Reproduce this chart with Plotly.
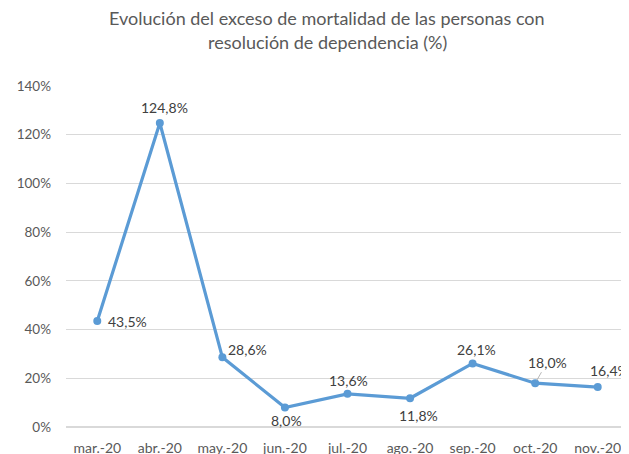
import plotly.graph_objects as go

months = ["mar.-20", "abr.-20", "may.-20", "jun.-20", "jul.-20", "ago.-20", "sep.-20", "oct.-20", "nov.-20"]
values = [43.5, 124.8, 28.6, 8.0, 13.6, 11.8, 26.1, 18.0, 16.4]
labels = ["43,5%", "124,8%", "28,6%", "8,0%", "13,6%", "11,8%", "26,1%", "18,0%", "16,4%"]
y_ticks = [0, 20, 40, 60, 80, 100, 120, 140]
y_tick_text = ["0%", "20%", "40%", "60%", "80%", "100%", "120%", "140%"]
title_lines = ["Evolución del exceso de mortalidad de las personas con",
               "resolución de dependencia (%)"]

# label offsets (px) relative to each point
x_shifts = [30, 5, 25, 2, 1, 8, 4, 12, 12]
y_shifts = [0, 16, 8, -13, 13, -17, 14, 21, 17]

FONT = "Lato"
line_color = "#5B9BD5"

fig = go.Figure()
fig.add_trace(go.Scatter(
    x=months, y=values, mode="lines+markers",
    line=dict(color=line_color, width=3.2),
    marker=dict(color=line_color, size=8),
    cliponaxis=False, hoverinfo="skip",
))

for i, (m, v, t) in enumerate(zip(months, values, labels)):
    if m == "oct.-20":
        fig.add_annotation(
            x=m, y=v, text=t, showarrow=True, arrowhead=0, arrowwidth=0.8,
            arrowcolor="#a6a6a6", ax=x_shifts[i], ay=-y_shifts[i], standoff=3,
            font=dict(family=FONT, size=14, color="#404040"),
        )
    else:
        fig.add_annotation(
            x=m, y=v, text=t, showarrow=False,
            xshift=x_shifts[i], yshift=y_shifts[i],
            font=dict(family=FONT, size=14, color="#404040"),
        )

for line, ys in zip(title_lines, [68, 44]):
    fig.add_annotation(
        text=line, xref="paper", yref="paper", x=0.4636, y=1, yshift=ys,
        xanchor="center", yanchor="middle", showarrow=False,
        font=dict(family=FONT, size=18, color="#595959"),
    )

fig.update_layout(
    width=621, height=446,
    margin=dict(l=58, r=0, t=78, b=27, autoexpand=False),
    paper_bgcolor="white", plot_bgcolor="white",
    showlegend=False,
    font=dict(family=FONT, color="#595959"),
)
fig.update_xaxes(
    showgrid=False, showline=False, ticks="", zeroline=False, automargin=False,
    tickfont=dict(family=FONT, size=14, color="#595959"),
    range=[-0.5, len(months) - 0.5], ticklabelstandoff=11,
)
fig.update_yaxes(
    range=[0, 140], tickvals=y_ticks, ticktext=y_tick_text, automargin=False,
    showgrid=True, gridcolor="#d9d9d9", gridwidth=1, zeroline=True,
    zerolinecolor="#d9d9d9", showline=False, ticks="",
    tickfont=dict(family=FONT, size=13.5, color="#595959"),
    ticklabelstandoff=14,
)

fig.write_html("out.html")
